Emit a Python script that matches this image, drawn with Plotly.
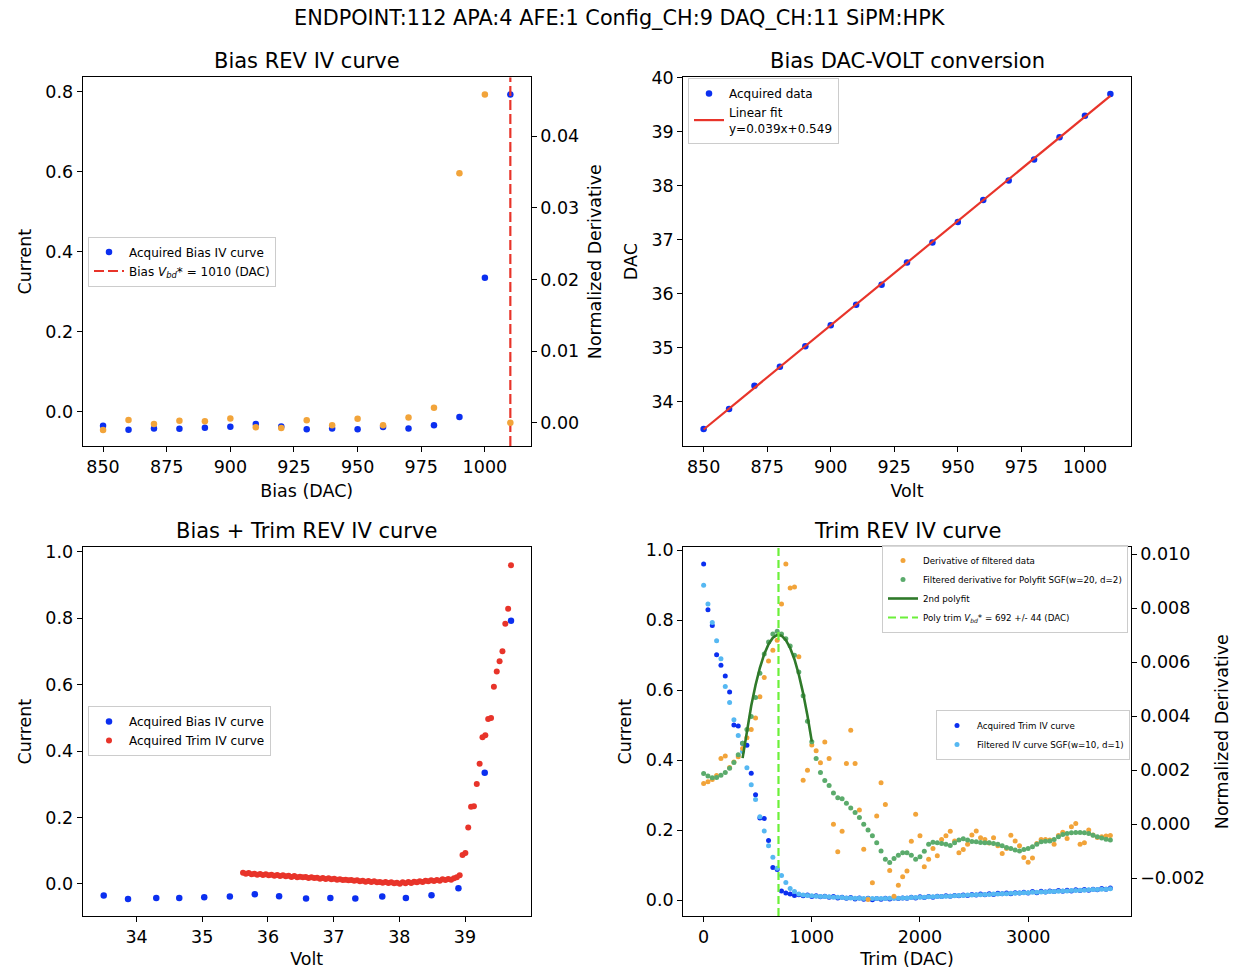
import numpy as np
import plotly.graph_objects as go

# ---------------- data ----------------
BIAS_DAC = [850, 860, 870, 880, 890, 900, 910, 920, 930, 940, 950, 960, 970, 980, 990, 1000, 1010]
BIAS_CURRENT = [-0.035, -0.045, -0.042, -0.0425, -0.040, -0.0375, -0.031, -0.037, -0.044, -0.042,
                -0.044, -0.038, -0.042, -0.034, -0.013, 0.335, 0.793]
BIAS_NORM_DERIV = [-0.00102, 0.00037, -0.00019, 0.00028, 0.00019, 0.0006, -0.00065, -0.00074, 0.00033,
                   -0.00037, 0.00056, -0.00037, 0.00074, 0.0021, 0.0348, 0.0458, 0.0]
BIAS_VOLT = [33.50, 33.87, 34.30, 34.65, 35.03, 35.42, 35.80, 36.17, 36.58, 36.95, 37.33, 37.74,
             38.10, 38.49, 38.90, 39.30, 39.70]
BIAS_VBD_DAC = 1010
FIT_LABEL = "Linear fit<br>y=0.039x+0.549"

TRIM_DAC = list(range(0, 3761, 40))
TRIM_CURRENT = [0.960, 0.829, 0.784, 0.701, 0.671, 0.640, 0.594, 0.500, 0.497, 0.448,
                0.442, 0.362, 0.301, 0.234, 0.233, 0.170, 0.093, 0.087, 0.026, 0.020,
                0.017, 0.013, 0.015, 0.012, 0.014, 0.010, 0.012, 0.009, 0.011, 0.008,
                0.010, 0.006, 0.008, 0.005, 0.007, 0.003, 0.006, 0.002, 0.005, 0.001,
                0.004, 0.002, 0.005, 0.003, 0.006, 0.004, 0.006, 0.005, 0.008, 0.006,
                0.009, 0.007, 0.010, 0.008, 0.011, 0.010, 0.012, 0.011, 0.013, 0.012,
                0.014, 0.013, 0.016, 0.014, 0.017, 0.015, 0.018, 0.016, 0.019, 0.018,
                0.020, 0.018, 0.021, 0.020, 0.022, 0.020, 0.024, 0.021, 0.025, 0.023,
                0.026, 0.024, 0.027, 0.025, 0.028, 0.026, 0.029, 0.027, 0.030, 0.028,
                0.031, 0.029, 0.033, 0.031, 0.034]
TRIM_CURRENT_FILT = [0.899, 0.846, 0.793, 0.741, 0.689, 0.610, 0.564, 0.515, 0.470, 0.424,
                     0.378, 0.329, 0.287, 0.238, 0.197, 0.155, 0.122, 0.091, 0.070, 0.050,
                     0.033, 0.024, 0.017, 0.014, 0.013, 0.012, 0.011, 0.010, 0.010, 0.009,
                     0.008, 0.008, 0.007, 0.006, 0.006, 0.005, 0.005, 0.004, 0.004, 0.004,
                     0.004, 0.004, 0.004, 0.005, 0.005, 0.005, 0.006, 0.006, 0.007, 0.007,
                     0.008, 0.008, 0.009, 0.009, 0.010, 0.010, 0.011, 0.011, 0.012, 0.013,
                     0.013, 0.014, 0.014, 0.015, 0.015, 0.016, 0.016, 0.017, 0.017, 0.018,
                     0.018, 0.019, 0.019, 0.020, 0.021, 0.021, 0.022, 0.022, 0.023, 0.023,
                     0.024, 0.024, 0.025, 0.026, 0.026, 0.027, 0.027, 0.028, 0.028, 0.029,
                     0.030, 0.030, 0.031, 0.031, 0.032]
TRIM_DERIV = [0.00151, 0.00157, 0.00165, 0.0018, 0.00243, 0.00252, 0.0021, 0.0023, 0.0025, 0.0028,
              0.0032, 0.0035, 0.00393, 0.00472, 0.00543, 0.00604, 0.00644, 0.00681, 0.00815, 0.00963,
              0.00874, 0.00878, 0.00620, 0.00163, 0.0020, 0.00293, 0.00272, 0.00227, 0.00304, 0.00243,
              0.0, -0.00102, -0.00026, 0.00225, 0.00348, 0.00225, 0.00052, -0.00093, -0.00279, -0.00217,
              0.0003, 0.00153, 0.00073, -0.00172, -0.00267, -0.00226, -0.00195, -0.00173, -0.00063, 0.00037,
              -0.00043, -0.00158, -0.0013, -0.0009, -0.00117, -0.00057, -0.00043, -0.00026, -0.00062, -0.00106,
              -0.00094, -0.00074, -0.0004, -0.00025, -0.0005, -0.00057, -0.0007, -0.0005, -0.0008, -0.00109,
              -0.0009, -0.00041, -0.00062, -0.0008, -0.00123, -0.00141, -0.00125, -0.00072, -0.00057, -0.00057,
              -0.00059, -0.00074, -0.00042, -0.0003, -0.00053, -0.0001, 0.00002, -0.00074, -0.00069, -0.00022,
              -0.0004, -0.00049, -0.00047, -0.00044, -0.00042]
TRIM_DERIV_FILT = [0.00188, 0.00178, 0.00172, 0.00173, 0.00181, 0.00191, 0.00207, 0.00228, 0.00257, 0.0030,
                   0.0035, 0.00399, 0.00469, 0.00559, 0.0063, 0.00674, 0.00704, 0.00714, 0.00704, 0.00686,
                   0.0066, 0.00625, 0.00563, 0.00475, 0.00381, 0.00305, 0.00243, 0.00191, 0.00162, 0.00143,
                   0.00115, 0.00098, 0.00094, 0.00077, 0.0006, 0.00043, 0.00025, 0.0, -0.00022, -0.00043,
                   -0.00069, -0.00099, -0.0013, -0.00142, -0.00127, -0.00115, -0.00106, -0.00106, -0.00115, -0.0013,
                   -0.00121, -0.001, -0.00074, -0.00067, -0.00069, -0.00072, -0.00074, -0.00079, -0.00069, -0.00059,
                   -0.00054, -0.00059, -0.00064, -0.00065, -0.00068, -0.00069, -0.00069, -0.00072, -0.00074, -0.0008,
                   -0.00086, -0.0009, -0.00096, -0.00099, -0.00094, -0.0009, -0.00084, -0.00074, -0.00065, -0.00063,
                   -0.00062, -0.00057, -0.00047, -0.00038, -0.00035, -0.00032, -0.00031, -0.00031, -0.00032, -0.00035,
                   -0.00041, -0.00047, -0.00051, -0.00056, -0.00059]
TRIM_VBD = 692
TRIM_VBD_ERR = 44
POLY_WINDOW = (360, 1000)
TRIM_VOLT_PER_DAC = 0.001085

SUPTITLE = "ENDPOINT:112 APA:4 AFE:1 Config_CH:9 DAQ_CH:11 SiPM:HPK"

for arr in (TRIM_CURRENT, TRIM_CURRENT_FILT, TRIM_DERIV, TRIM_DERIV_FILT):
    assert len(arr) == len(TRIM_DAC), len(arr)

# ---------------- derived ----------------
bias_dac = np.array(BIAS_DAC, float)
bias_volt = np.array(BIAS_VOLT, float)
fit_coef = np.polyfit(bias_dac, bias_volt, 1)
fit_y = np.polyval(fit_coef, bias_dac)

trim = np.array(TRIM_DAC, float)
trim_volt = bias_volt[-1] - trim * TRIM_VOLT_PER_DAC
mask = (trim >= POLY_WINDOW[0]) & (trim <= POLY_WINDOW[1])
pcoef = np.polyfit(trim[mask], np.array(TRIM_DERIV_FILT)[mask], 2)
poly_x = trim[mask]
poly_y = np.polyval(pcoef, poly_x)

# ---------------- styles ----------------
W, H = 1239, 969
FONT = "DejaVu Sans"
BLUE = "#0b2ff0"
LBLUE = "#56b8f2"
ORANGE = "#f2a43a"
GREEN = "#5bab6c"
RED = "#e8342a"
DKGREEN = "#2f7a2a"
LGREEN = "#6cf03a"

R_TL_X = [842.0, 1018.0]
R_TL_Y = [-0.0858, 0.836]
R_TL_Y2 = [-0.00325, 0.0482]
R_TR_Y = [33.185, 40.01]
R_BL_X = [33.18, 40.0]
R_BL_Y = [-0.0964, 1.014]
R_BR_X = [-188, 3948]
R_BR_Y = [-0.0457, 1.0077]
R_BR_Y2 = [-0.0034, 0.01025]


def px(x):
    return x / W


def py(y):
    return 1 - y / H


XL = [px(82.7), px(530.7)]
XR = [px(683.3), px(1130.7)]
YT = [py(446), py(77.3)]
YB = [py(916), py(547.3)]

fig = go.Figure()

mk = dict(size=6.5, line=dict(width=0))
mk_s = dict(size=5, line=dict(width=0))

# Top-left
fig.add_trace(go.Scatter(x=BIAS_DAC, y=BIAS_CURRENT, mode="markers", marker=dict(color=BLUE, **mk),
                         name="Acquired Bias IV curve", xaxis="x", yaxis="y", legend="legend"))
fig.add_trace(go.Scatter(x=[BIAS_VBD_DAC, BIAS_VBD_DAC], y=R_TL_Y, mode="lines",
                         line=dict(color=RED, width=2.2, dash="10px,4px"),
                         name="Bias <i>V</i><sub><i>bd</i></sub>* = %d (DAC)" % BIAS_VBD_DAC,
                         xaxis="x", yaxis="y", legend="legend"))
fig.add_trace(go.Scatter(x=BIAS_DAC, y=BIAS_NORM_DERIV, mode="markers", marker=dict(color=ORANGE, **mk),
                         showlegend=False, xaxis="x", yaxis="y2"))

# Top-right
fig.add_trace(go.Scatter(x=BIAS_DAC, y=BIAS_VOLT, mode="markers", marker=dict(color=BLUE, **mk),
                         name="Acquired data", xaxis="x2", yaxis="y3", legend="legend2"))
fig.add_trace(go.Scatter(x=bias_dac, y=fit_y, mode="lines", line=dict(color=RED, width=2.2),
                         name=FIT_LABEL, xaxis="x2", yaxis="y3", legend="legend2"))

# Bottom-left
fig.add_trace(go.Scatter(x=BIAS_VOLT, y=BIAS_CURRENT, mode="markers", marker=dict(color=BLUE, **mk),
                         name="Acquired Bias IV curve", xaxis="x3", yaxis="y4", legend="legend3"))
fig.add_trace(go.Scatter(x=trim_volt, y=TRIM_CURRENT, mode="markers",
                         marker=dict(color=RED, size=6, line=dict(width=0)),
                         name="Acquired Trim IV curve", xaxis="x3", yaxis="y4", legend="legend3"))

# Bottom-right
fig.add_trace(go.Scatter(x=TRIM_DAC, y=TRIM_CURRENT, mode="markers", marker=dict(color=BLUE, **mk_s),
                         name="Acquired Trim IV curve", xaxis="x4", yaxis="y5", legend="legend5"))
fig.add_trace(go.Scatter(x=TRIM_DAC, y=TRIM_CURRENT_FILT, mode="markers", marker=dict(color=LBLUE, **mk_s),
                         name="Filtered IV curve SGF(w=10, d=1)", xaxis="x4", yaxis="y5", legend="legend5"))
fig.add_trace(go.Scatter(x=TRIM_DAC, y=TRIM_DERIV, mode="markers", marker=dict(color=ORANGE, **mk_s),
                         name="Derivative of filtered data", xaxis="x4", yaxis="y6", legend="legend4"))
fig.add_trace(go.Scatter(x=TRIM_DAC, y=TRIM_DERIV_FILT, mode="markers", marker=dict(color=GREEN, **mk_s),
                         name="Filtered derivative for Polyfit SGF(w=20, d=2)", xaxis="x4", yaxis="y6",
                         legend="legend4"))
fig.add_trace(go.Scatter(x=poly_x, y=poly_y, mode="lines", line=dict(color=DKGREEN, width=2.6),
                         name="2nd polyfit", xaxis="x4", yaxis="y6", legend="legend4"))
fig.add_trace(go.Scatter(x=[TRIM_VBD, TRIM_VBD], y=R_BR_Y2, mode="lines",
                         line=dict(color=LGREEN, width=2.2, dash="8px,4px"),
                         name="Poly trim <i>V</i><sub><i>bd</i></sub>* = %d +/- %d (DAC)" % (TRIM_VBD, TRIM_VBD_ERR),
                         xaxis="x4", yaxis="y6", legend="legend4"))

TICKF = dict(family=FONT, size=17.5, color="black")
TITF = dict(family=FONT, size=17.5, color="black")


def ax(**kw):
    d = dict(showline=True, linecolor="black", linewidth=1.2, mirror=True, ticks="outside",
             ticklen=5, tickwidth=1.2, tickcolor="black", showgrid=False, zeroline=False,
             tickfont=TICKF, title_font=TITF, automargin=False)
    d.update(kw)
    return d


def ax2(**kw):
    d = dict(showline=False, ticks="outside", ticklen=5, tickwidth=1.2, tickcolor="black",
             showgrid=False, zeroline=False, tickfont=TICKF, title_font=TITF, side="right",
             automargin=False)
    d.update(kw)
    return d


def legend(x, y, size):
    return dict(x=x, y=y, xanchor="left", yanchor="top", bgcolor="rgba(255,255,255,0.85)",
                bordercolor="#cccccc", borderwidth=1, font=dict(family=FONT, size=size, color="black"),
                tracegroupgap=0)


fig.update_layout(
    template="none",
    width=W, height=H, margin=dict(l=0, r=0, t=0, b=0, autoexpand=False),
    paper_bgcolor="white", plot_bgcolor="white",
    font=dict(family=FONT, color="black"),
    xaxis=ax(domain=XL, anchor="y", range=R_TL_X, tickvals=[850, 875, 900, 925, 950, 975, 1000],
             title=dict(text="Bias (DAC)", standoff=8)),
    yaxis=ax(domain=YT, anchor="x", range=R_TL_Y, tickvals=[0.0, 0.2, 0.4, 0.6, 0.8], tickformat=".1f",
             title=dict(text="Current", standoff=9)),
    yaxis2=ax2(overlaying="y", anchor="x", range=R_TL_Y2, tickvals=[0.0, 0.01, 0.02, 0.03, 0.04],
               tickformat=".2f", title=dict(text="Normalized Derivative", standoff=10)),
    xaxis2=ax(domain=XR, anchor="y3", range=R_TL_X, tickvals=[850, 875, 900, 925, 950, 975, 1000],
              title=dict(text="Volt", standoff=8)),
    yaxis3=ax(domain=YT, anchor="x2", range=R_TR_Y, tickvals=[34, 35, 36, 37, 38, 39, 40],
              title=dict(text="DAC", standoff=9)),
    xaxis3=ax(domain=XL, anchor="y4", range=R_BL_X, tickvals=[34, 35, 36, 37, 38, 39],
              title=dict(text="Volt", standoff=8)),
    yaxis4=ax(domain=YB, anchor="x3", range=R_BL_Y, tickvals=[0.0, 0.2, 0.4, 0.6, 0.8, 1.0], tickformat=".1f",
              title=dict(text="Current", standoff=9)),
    xaxis4=ax(domain=XR, anchor="y5", range=R_BR_X, tickvals=[0, 1000, 2000, 3000],
              title=dict(text="Trim (DAC)", standoff=8)),
    yaxis5=ax(domain=YB, anchor="x4", range=R_BR_Y, tickvals=[0.0, 0.2, 0.4, 0.6, 0.8, 1.0], tickformat=".1f",
              title=dict(text="Current", standoff=9)),
    yaxis6=ax2(overlaying="y5", anchor="x4", range=R_BR_Y2,
               tickvals=[-0.002, 0.0, 0.002, 0.004, 0.006, 0.008, 0.010], tickformat=".3f",
               title=dict(text="Normalized Derivative", standoff=11)),
    legend=legend(px(88), py(236.5), 12),
    legend2=legend(px(688), py(78), 12),
    legend3=legend(px(88), py(706), 12),
    legend4=legend(px(882), py(545), 8.7),
    legend5=legend(px(936), py(710), 8.7),
    showlegend=True,
)

TITLE_F = dict(family=FONT, size=21, color="black")
fig.add_annotation(text=SUPTITLE, x=0.5, y=py(18), xref="paper", yref="paper", showarrow=False,
                   xanchor="center", yanchor="middle", font=dict(family=FONT, size=20.8, color="black"))
for txt, xd, ytop in [("Bias REV IV curve", XL, 77.3), ("Bias DAC-VOLT conversion", XR, 77.3),
                      ("Bias + Trim REV IV curve", XL, 547.3), ("Trim REV IV curve", XR, 547.3)]:
    fig.add_annotation(text=txt, x=(xd[0] + xd[1]) / 2, y=py(ytop - 2), xref="paper", yref="paper",
                       showarrow=False, xanchor="center", yanchor="bottom", font=TITLE_F)

fig.write_html("out.html")
